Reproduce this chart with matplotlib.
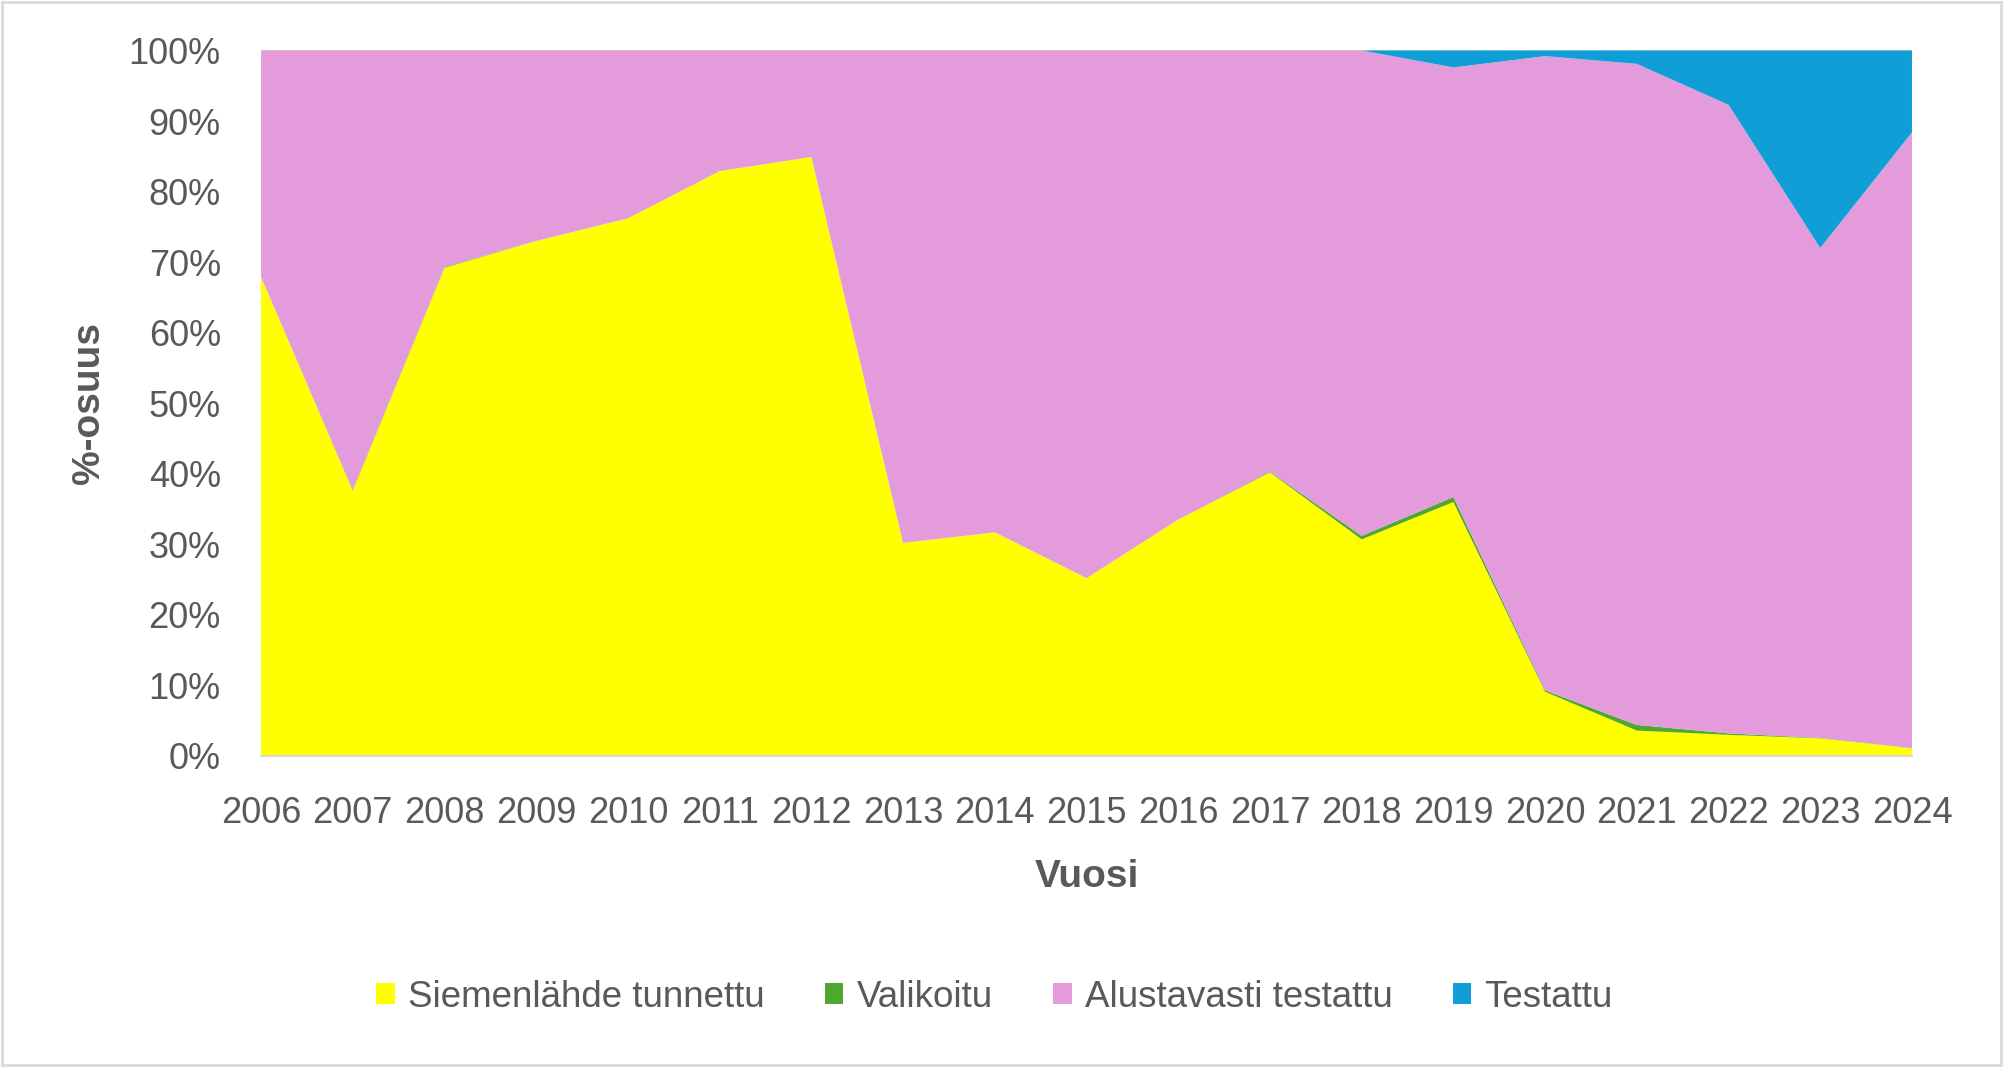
import numpy as np
import matplotlib
matplotlib.use('Agg')
from matplotlib import pyplot as plt
from matplotlib.patches import Rectangle, Patch
from matplotlib.ticker import FuncFormatter

# shares in percent
years = list(range(2006, 2025))
siemenlahde = [67.9, 37.6, 69.2, 73.0, 76.2, 82.9, 84.9, 30.2, 31.7, 25.2,
               33.5, 40.2, 30.7, 36.0, 9.1, 3.6, 3.0, 2.5, 1.1]
valikoitu = [0.0, 0.1, 0.1, 0.0, 0.0, 0.0, 0.0, 0.0, 0.0, 0.0,
             0.0, 0.1, 0.5, 0.7, 0.2, 0.8, 0.2, 0.05, 0.0]
testattu = [0.0, 0.0, 0.0, 0.0, 0.0, 0.0, 0.0, 0.0, 0.0, 0.0,
            0.0, 0.0, 0.0, 2.4, 0.8, 1.9, 7.7, 28.0, 11.6]
alustavasti = [100 - a - b - c for a, b, c in zip(siemenlahde, valikoitu, testattu)]

names = ['Siemenlähde tunnettu', 'Valikoitu', 'Alustavasti testattu', 'Testattu']
colors = ['#FFFF00', '#4EA72E', '#E39BDC', '#0F9ED5']
textcol = '#595959'

plt.rcParams['font.family'] = ['Liberation Sans', 'DejaVu Sans']

fig = plt.figure(figsize=(20.05, 10.67), dpi=100)
ax = fig.add_axes([0.1302, 0.2915, 0.8234, 0.6612])

series = [np.array(siemenlahde) / 100, np.array(valikoitu) / 100,
          np.array(alustavasti) / 100, np.array(testattu) / 100]
ax.stackplot(years, *series, colors=colors, linewidth=0, antialiased=True)
ax.axhline(1.0, color='#D9D9D9', lw=1.5, zorder=0.5)

ax.set_xlim(2006, 2024)
ax.set_ylim(0, 1)
ax.set_xticks(years)
ax.set_yticks(np.arange(0, 1.01, 0.1))
ax.yaxis.set_major_formatter(FuncFormatter(lambda v, p: '%d%%' % round(v * 100)))
ax.tick_params(axis='both', length=0, labelsize=26, labelcolor=textcol)
ax.tick_params(axis='y', pad=29)
ax.tick_params(axis='x', pad=29)
for s in ['top', 'right', 'left']:
    ax.spines[s].set_visible(False)
ax.spines['bottom'].set_color('#D9D9D9')
ax.spines['bottom'].set_linewidth(1.5)

fig.text(1087 / 2005, 1 - 877 / 1067, 'Vuosi', ha='center', va='center',
         fontsize=28, fontweight='bold', color=textcol)
fig.text(89 / 2005, 1 - 403 / 1067, '%-osuus', ha='center', va='center',
         rotation=90, fontsize=28, fontweight='bold', color=textcol)

handles = [Patch(facecolor=c, edgecolor='none') for c in colors]
fig.legend(handles, names, loc='center', bbox_to_anchor=(0.496, 1 - 997 / 1067),
           ncol=4, frameon=False, fontsize=26.5, labelcolor=textcol,
           handlelength=0.5, handleheight=0.5, handletextpad=0.35,
           columnspacing=1.65)

fig.patches.append(Rectangle((0.001, 0.002), 0.997, 0.996, transform=fig.transFigure,
                             fill=False, edgecolor='#D9D9D9', lw=2))

fig.savefig('out.png', dpi=100)
plt.close()
